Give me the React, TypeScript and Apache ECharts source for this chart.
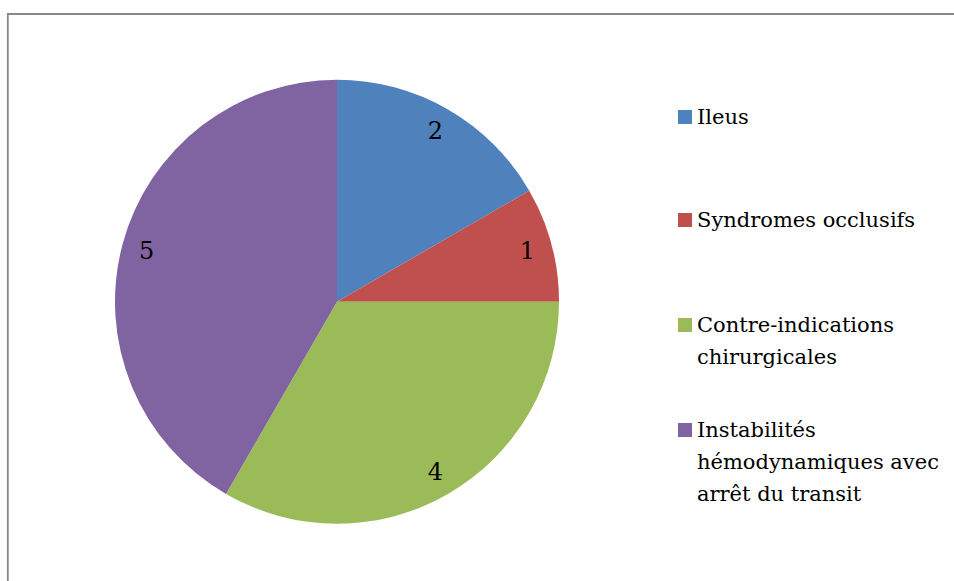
import React, { useEffect, useRef } from "react";
import * as echarts from "echarts";

const categories = [
  "Ileus",
  "Syndromes occlusifs",
  "Contre-indications\nchirurgicales",
  "Instabilités\nhémodynamiques avec\narrêt du transit",
];
const values = [2, 1, 4, 5];
const colors = ["#4F81BD", "#C0504D", "#9BBB59", "#8064A2"];

const FONT = "DejaVu Serif";
const LH = 32;
const legendCenters = [117, 220, 325, 430];

export default function App() {
  const ref = useRef<HTMLDivElement>(null);
  useEffect(() => {
    if (!ref.current) return;
    const chart = echarts.init(ref.current, undefined, { renderer: "svg" });
    const legends = categories.map((name, i) => {
      const n = name.split("\n").length;
      const H = n * LH;
      const t = LH / 2 - 7;
      const icon = `path://M0,0 M14,${H} M0,${t} L14,${t} L14,${t + 14} L0,${t + 14} Z`;
      return {
        show: true,
        left: 678,
        top: legendCenters[i] - LH / 2,
        padding: 0,
        orient: "vertical",
        itemWidth: 14,
        itemHeight: H,
        selectedMode: false,
        data: [{ name, icon }],
        textStyle: {
          fontFamily: FONT,
          fontSize: 21,
          color: "#000",
          lineHeight: LH,
        },
      };
    });
    chart.setOption({
      animation: false,
      backgroundColor: "#fff",
      color: colors,
      textStyle: { fontFamily: FONT },
      legend: legends,
      graphic: [
        {
          type: "rect",
          shape: { x: 7.8, y: 14, width: 1200, height: 1200 },
          style: { fill: "none", stroke: "#878787", lineWidth: 1.8 },
          silent: true,
        },
      ],
      series: [
        {
          type: "pie",
          center: [337, 301.7],
          radius: 222,
          startAngle: 90,
          clockwise: true,
          label: { show: false },
          labelLine: { show: false },
          emphasis: { disabled: true },
          data: categories.map((c, i) => ({ name: c, value: values[i] })),
        },
        {
          type: "pie",
          center: [337, 301.7],
          radius: [0, 388],
          startAngle: 90,
          clockwise: true,
          silent: true,
          itemStyle: { color: "rgba(0,0,0,0)" },
          label: {
            show: true,
            position: "inside",
            formatter: "{c}",
            fontFamily: FONT,
            fontSize: 24,
            color: "#000",
          },
          labelLine: { show: false },
          emphasis: { disabled: true },
          data: categories.map((c, i) => ({ name: c, value: values[i] })),
        },
      ],
    });
    return () => chart.dispose();
  }, []);
  return (
    <>
      <style>{`#pie-chart svg text { font-family: "DejaVu Serif", serif !important; }`}</style>
      <div
        id="pie-chart"
        ref={ref}
        style={{ position: "fixed", left: 0, top: 0, width: 954, height: 581 }}
      />
    </>
  );
}
